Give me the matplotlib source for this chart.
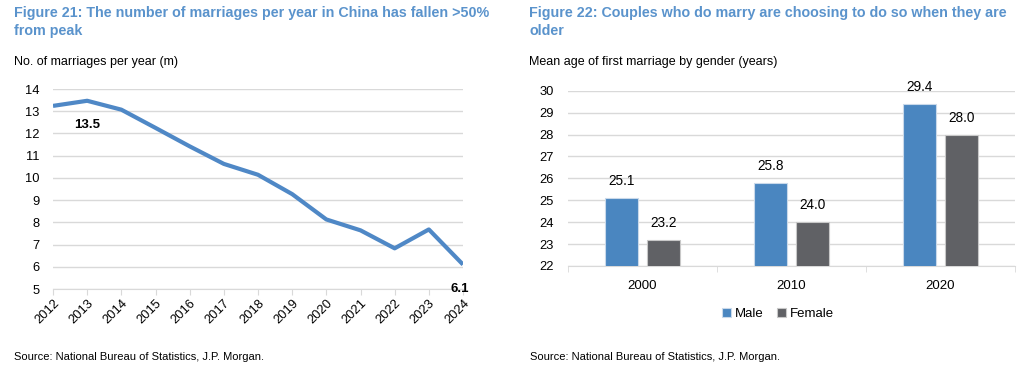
import matplotlib
matplotlib.use("Agg")
import matplotlib.pyplot as plt
import numpy as np

plt.rcParams['font.family'] = ['Liberation Sans', 'DejaVu Sans']

# --- data: left chart (marriages per year, millions) ---
years = [2012, 2013, 2014, 2015, 2016, 2017, 2018, 2019, 2020, 2021, 2022, 2023, 2024]
marriages = [13.24, 13.47, 13.07, 12.25, 11.42, 10.63, 10.14, 9.27, 8.13, 7.64, 6.83, 7.68, 6.1]

# --- data: right chart (mean age at first marriage) ---
census_years = ['2000', '2010', '2020']
male_age = [25.1, 25.8, 29.4]
female_age = [23.2, 24.0, 28.0]

title_col = '#5a93cc'
line_col = '#4f88c6'
male_col = '#4a86c0'
female_col = '#606165'
grid_col = '#d9d9d9'

fig = plt.figure(figsize=(10.24, 3.74), dpi=100)
W, H = 1024, 374

def px_axes(x0, y0, x1, y1):
    return fig.add_axes([x0 / W, 1 - y1 / H, (x1 - x0) / W, (y1 - y0) / H])

# ========== left chart ==========
ax1 = px_axes(53, 89, 463, 289)
ax1.plot(years, marriages, color=line_col, lw=3, solid_capstyle='butt', zorder=3)
ax1.set_xlim(2012, 2024)
ax1.set_ylim(5, 14)
ax1.set_yticks(range(5, 15))
ax1.set_xticks(years)
ax1.set_xticklabels([str(y) for y in years], rotation=45, ha='right', va='top',
                    rotation_mode='anchor')
ax1.grid(axis='y', color=grid_col, lw=1)
ax1.set_axisbelow(True)
for s in ['top', 'right', 'left']:
    ax1.spines[s].set_visible(False)
ax1.spines['bottom'].set_color(grid_col)
ax1.tick_params(axis='y', length=0, labelsize=9.3, pad=9.5)
ax1.tick_params(axis='x', length=4, color=grid_col, labelsize=9.3, pad=2)
ax1.text(2013, 12.4, '13.5', ha='center', va='center', fontsize=9.5, fontweight='bold')
ax1.text(2024.18, 5.0, '6.1', ha='right', va='center', fontsize=9.5, fontweight='bold')

fig.text(14 / W, 1 - 22 / H, 'Figure 21: The number of marriages per year in China has fallen >50%\nfrom peak',
         color=title_col, fontsize=10.3, fontweight='bold', va='center', linespacing=1.3)
fig.text(14 / W, 1 - 62 / H, 'No. of marriages per year (m)', fontsize=9, va='center')
fig.text(14 / W, 1 - 357 / H, 'Source: National Bureau of Statistics, J.P. Morgan.', fontsize=8, va='center')

# ========== right chart ==========
ax2 = px_axes(568, 90.7, 1015, 266)
x = np.arange(len(census_years))
bw = 0.22
off = 0.143
b1 = ax2.bar(x - off, male_age, bw, bottom=0, color=male_col, edgecolor='#c9d9ea', lw=0.8,
             label='Male', zorder=3)
b2 = ax2.bar(x + off, female_age, bw, bottom=0, color=female_col, edgecolor='#c8c8c8', lw=0.8,
             label='Female', zorder=3)
for rects, vals in [(b1, male_age), (b2, female_age)]:
    for r, v in zip(rects, vals):
        ax2.text(r.get_x() + r.get_width() / 2, v + 0.45, f'{v:.1f}', ha='center', va='bottom',
                 fontsize=9.8)
ax2.set_xlim(-0.5, len(census_years) - 0.5)
ax2.set_ylim(22, 30)
ax2.set_yticks(range(22, 31))
ax2.set_xticks(x)
ax2.set_xticklabels(census_years)
ax2.set_xticks(np.arange(-0.5, len(census_years)), minor=True)
ax2.grid(axis='y', color=grid_col, lw=1)
ax2.set_axisbelow(True)
for s in ['top', 'right', 'left']:
    ax2.spines[s].set_visible(False)
ax2.spines['bottom'].set_color(grid_col)
ax2.tick_params(axis='y', length=0, labelsize=9.3, pad=10)
ax2.tick_params(axis='x', which='major', length=0, labelsize=9.5, pad=10)
ax2.tick_params(axis='x', which='minor', length=4, color=grid_col)
ax2.legend(loc='upper center', bbox_to_anchor=(0.47, -0.17), ncol=2, frameon=False,
           fontsize=9.5, handlelength=0.7, handleheight=0.7, handletextpad=0.3, columnspacing=1.0)

fig.text(529 / W, 1 - 22 / H, 'Figure 22: Couples who do marry are choosing to do so when they are\nolder',
         color=title_col, fontsize=10.3, fontweight='bold', va='center', linespacing=1.3)
fig.text(529 / W, 1 - 62 / H, 'Mean age of first marriage by gender (years)', fontsize=9, va='center')
fig.text(530 / W, 1 - 357 / H, 'Source: National Bureau of Statistics, J.P. Morgan.', fontsize=8, va='center')

fig.savefig('out.png', dpi=100)
